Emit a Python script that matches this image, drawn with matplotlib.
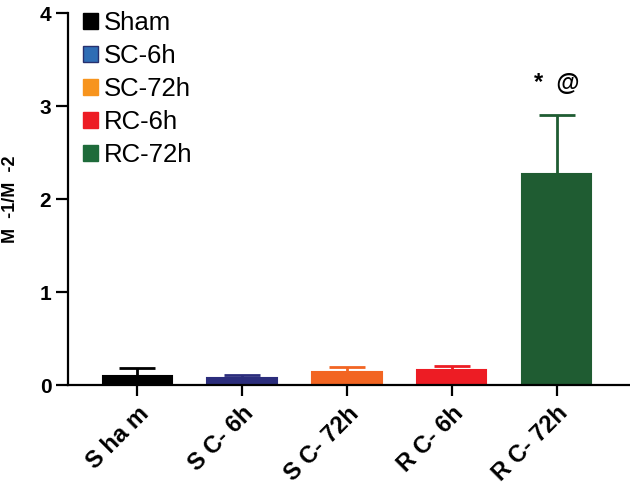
import matplotlib
matplotlib.use("Agg")
import matplotlib.pyplot as plt
from matplotlib.patches import Patch

plt.rcParams['font.family'] = ['Liberation Sans', 'DejaVu Sans']

groups = ['Sham', 'SC-6h', 'SC-72h', 'RC-6h', 'RC-72h']
tick_labels = ['S ha m', 'S C- 6h', 'S C- 72h', 'R C- 6h', 'R C- 72h']
means = [0.10, 0.08, 0.14, 0.16, 2.27]
errors = [0.08, 0.03, 0.06, 0.05, 0.63]
bar_colors = ['#000000', '#2b2d7c', '#f26522', '#ed1c24', '#1f5c32']
legend_colors = ['#000000', '#2f6db5', '#f7941d', '#ed1c24', '#1e6b3a']
legend_edges = ['#000000', '#27306e', '#f7941d', '#ed1c24', '#1e6b3a']

fig = plt.figure(figsize=(6.3, 4.87), dpi=100)
ax = fig.add_axes([0.108, 0.209, 0.892, 0.764])

x = range(len(groups))
ax.bar(x, means, width=0.66, color=bar_colors, edgecolor=bar_colors, linewidth=1.5)
for xi, m, e, c in zip(x, means, errors, bar_colors):
    ax.errorbar(xi, m, yerr=[[0], [e]], fmt='none', ecolor=c, elinewidth=2,
                capsize=13, capthick=2)

ax.text(4, 3.24, '*  @', ha='center', va='center', fontsize=17, fontweight='bold')

ax.set_xlim(-0.66, 4.7)
ax.set_ylim(0, 4)
ax.set_yticks([0, 1, 2, 3, 4])
ax.set_xticks(list(x))
ax.set_xticklabels(tick_labels, rotation=45, ha='right', rotation_mode='anchor',
                   fontsize=17, fontweight='bold')
for lab in ax.get_yticklabels():
    lab.set_fontsize(15)
    lab.set_fontweight('bold')
ax.set_ylabel('M  -1/M  -2', fontsize=13, fontweight='bold')
ax.yaxis.set_label_coords(-0.087, 0.5)

for s in ['top', 'right']:
    ax.spines[s].set_visible(False)
for s in ['left', 'bottom']:
    ax.spines[s].set_linewidth(1.6)
ax.tick_params(axis='y', length=9, width=1.6, pad=3)
ax.tick_params(axis='x', length=8, width=1.6, pad=4)

handles = [Patch(facecolor=fc, edgecolor=ec, linewidth=1) for fc, ec in zip(legend_colors, legend_edges)]
fig.legend(handles, groups, loc='upper left', bbox_to_anchor=(0.132, 0.977), frameon=False,
           fontsize=18.5, handlelength=0.58, handleheight=0.58, handletextpad=0.22,
           labelspacing=0.35, borderaxespad=0, borderpad=0)

fig.savefig('out.png', dpi=100)
